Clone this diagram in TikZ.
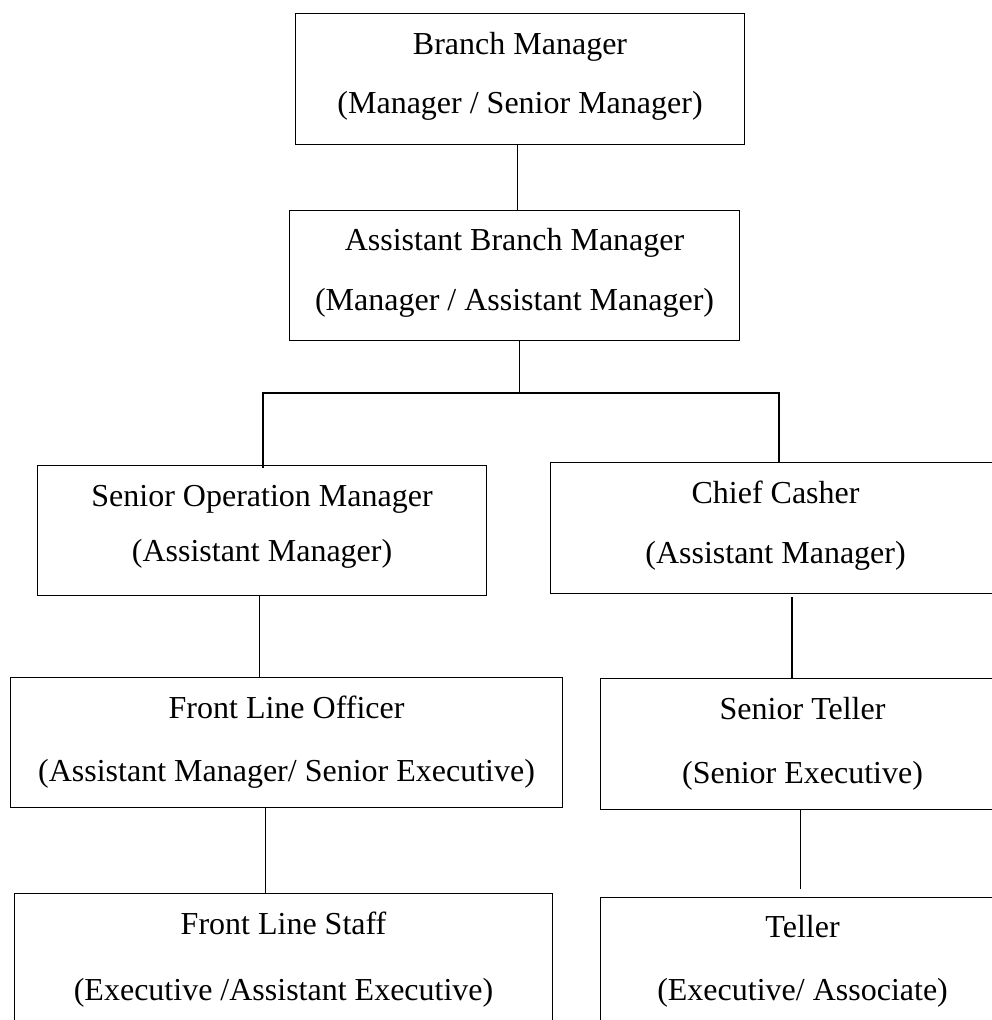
\documentclass[tikz,border=0pt]{standalone}
\usepackage{fontspec}
\setmainfont{Liberation Serif}
\begin{document}
\begin{tikzpicture}[x=1pt,y=-1pt,
  box/.style={draw=black, line width=1.1pt, anchor=north west, inner sep=0pt},
  txt/.style={anchor=base, inner sep=0pt, font=\fontsize{32}{38}\selectfont},
  conn/.style={draw=black, line width=1.1pt}]
\useasboundingbox (0,0) rectangle (992,1020);
\clip (0,0) rectangle (992,1020);
% boxes
\node[box, minimum width=449pt, minimum height=131pt] (bm)  at (295,13)  {};
\node[box, minimum width=450pt, minimum height=130pt] (abm) at (289,210) {};
\node[box, minimum width=449pt, minimum height=130pt] (som) at (37,465)  {};
\node[box, minimum width=450pt, minimum height=131pt] (cc)  at (550,462) {};
\node[box, minimum width=552pt, minimum height=130pt] (flo) at (10,677)  {};
\node[box, minimum width=404pt, minimum height=131pt] (st)  at (600,678) {};
\node[box, minimum width=538pt, minimum height=140pt] (fls) at (14,893)  {};
\node[box, minimum width=404pt, minimum height=140pt] (tel) at (600,897) {};
% texts
\node[txt] (bm1)  at ([yshift=-41pt]bm.north)  {Branch Manager};
\node[txt] (bm2)  at ([yshift=-100pt]bm.north) {(Manager / Senior Manager)};
\node[txt] (abm1) at ([yshift=-40pt]abm.north)  {Assistant Branch Manager};
\node[txt] (abm2) at ([yshift=-100pt]abm.north) {(Manager / Assistant Manager)};
\node[txt] (som1) at ([yshift=-41pt]som.north)  {Senior Operation Manager};
\node[txt] (som2) at ([yshift=-96pt]som.north)  {(Assistant Manager)};
\node[txt] (cc1)  at ([yshift=-41pt]cc.north)   {Chief Casher};
\node[txt] (cc2)  at ([yshift=-101pt]cc.north)  {(Assistant Manager)};
\node[txt] (flo1) at ([yshift=-41pt]flo.north)  {Front Line Officer};
\node[txt] (flo2) at ([yshift=-104pt]flo.north) {(Assistant Manager/ Senior Executive)};
\node[txt] (st1)  at ([yshift=-41pt]st.north)   {Senior Teller};
\node[txt] (st2)  at ([yshift=-105pt]st.north)  {(Senior Executive)};
\node[txt] (fls1) at ([yshift=-41pt]fls.north)  {Front Line Staff};
\node[txt] (fls2) at ([yshift=-107pt]fls.north) {(Executive /Assistant Executive)};
\node[txt] (tel1) at ([yshift=-40pt]tel.north)  {Teller};
\node[txt] (tel2) at ([yshift=-103pt]tel.north) {(Executive/ Associate)};
% connectors
\coordinate (jc) at ([xshift=5pt]abm.south |- 0,393);
\coordinate (jl) at (263,393);
\coordinate (jr) at (779,393);
\draw[conn] ([xshift=-2.5pt]bm.south) -- ([xshift=-2.5pt]bm.south |- abm.north);
\draw[conn] ([xshift=5pt]abm.south) -- (jc);
\draw[conn] (jl |- som.north) ++(0,3) -- (jl) -- (jr) -- (jr |- cc.north);
\draw[conn] ([xshift=-2.5pt]som.south) -- ([xshift=-2.5pt]som.south |- flo.north);
\draw[conn] (792,596) coordinate (c1) (c1 |- cc.south) ++(0,3) -- (c1 |- st.north);
\draw[conn] ([xshift=-21pt]flo.south) -- ([xshift=-21pt]flo.south |- fls.north);
\draw[conn] ([xshift=-2pt]st.south) -- ([xshift=-2pt,yshift=8pt]st.south |- tel.north);
\end{tikzpicture}
\end{document}
